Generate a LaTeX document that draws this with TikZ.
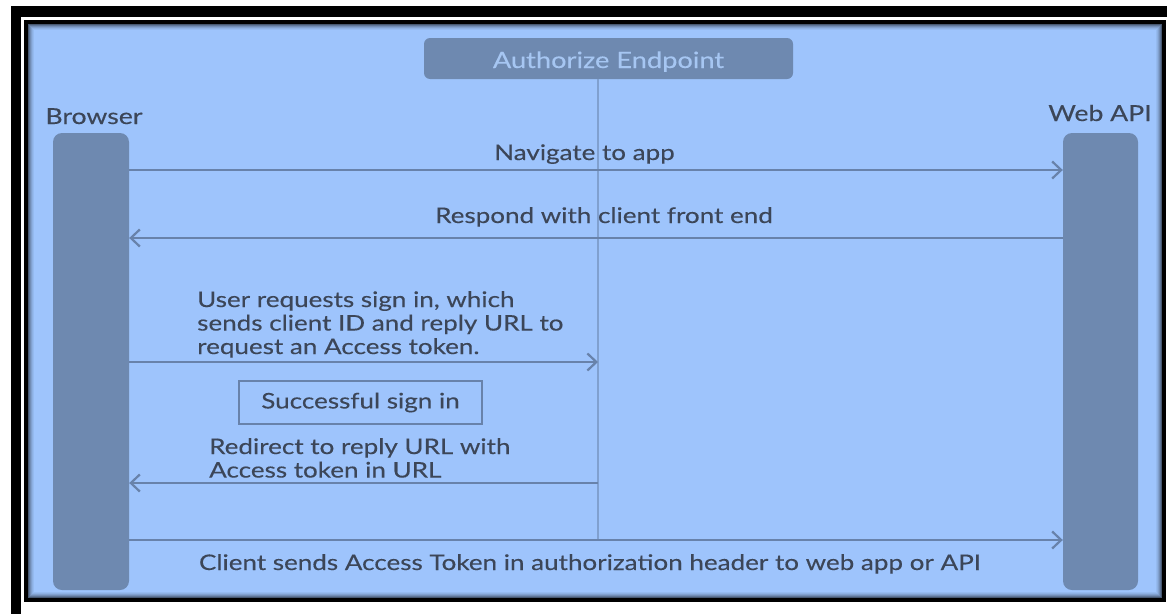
\documentclass[tikz,border=0pt]{standalone}
\usepackage{fontspec}
\setmainfont{Lato}[FakeStretch=1.21, FakeBold=0.25]
\usetikzlibrary{arrows.meta}

\definecolor{panel}{RGB}{158,196,252}
\definecolor{lane}{RGB}{110,137,176}
\definecolor{ink}{RGB}{60,70,88}
\definecolor{wire}{RGB}{104,130,170}
\definecolor{paletext}{RGB}{166,198,242}

\begin{document}
\begin{tikzpicture}[x=1pt,y=-1pt,
  lifeline/.style={fill=lane, rounded corners=9pt, minimum width=76pt,
    minimum height=457pt, inner sep=0pt},
  msg/.style={draw=wire, line width=2.2pt,
    -{Straight Barb[length=9pt,width=17pt,line width=2.2pt]}},
  lbl/.style={text=ink, font=\fontsize{21.5}{23.5}\selectfont, inner sep=0pt},
  head/.style={text=ink, font=\fontsize{22}{26}\selectfont, inner sep=0pt},
]
\useasboundingbox (0,0) rectangle (1167,613);
\clip (0,0) rectangle (1167,613);

% page and double black frame
\fill[white] (0,0) rectangle (1167,613);
\draw[black, line width=10.5pt] (16,11.5) rectangle (1180,620);
\draw[black, line width=3.5pt] (26,22) rectangle (1164,600);

% blue panel with a soft inner shadow
\fill[panel] (28,24) rectangle (1162,598);
\foreach \i/\o in {0.5/0.55,1.5/0.4,2.5/0.28,3.5/0.18,4.5/0.1,5.5/0.05}
  \draw[black, opacity=\o, line width=1pt]
    (28+\i,24+\i) rectangle (1162-\i,598-\i);

% participants
\node[lifeline] (browser) at (91,361.5) {};
\node[lifeline, minimum width=75pt] (webapi) at (1100.5,361.5) {};
\node[head, anchor=base] (browserlbl) at (94,124) {Browser};
\node[head, anchor=base] (webapilbl) at (1100,121) {Web API};

\node[fill=lane, rounded corners=6pt, minimum width=369pt, minimum height=41pt,
  inner sep=0pt] (endpoint) at (608.5,58.5) {};
\node[text=paletext, font=\fontsize{22.5}{26}\selectfont, inner sep=0pt,
  anchor=base] (endpointlbl) at (608.5,68) {Authorize Endpoint};

% endpoint lifeline
\coordinate (split) at (598,79);
\coordinate (splitend) at (598,540);
\draw[wire!55!panel, line width=1.2pt] (split) -- (splitend);

% messages
\draw[msg] (browser.east |- 0,170) -- (webapi.west |- 0,170);
\node[lbl, anchor=base] (m1) at (584.5,160) {Navigate to app};

\draw[msg] (webapi.west |- 0,238) -- (browser.east |- 0,238);
\node[lbl, anchor=base] (m2) at (604,223) {Respond with client front end};

\draw[msg] (browser.east |- 0,362) -- (split |- 0,362);
\node[lbl, anchor=north west, align=left] (m3) at (197,291)
  {User requests sign in, which\\sends client ID and reply URL to\\request an Access token.};

\node[lbl, draw=wire, line width=2.5pt, minimum width=243pt, minimum height=43pt]
  (signin) at (360.5,402.5) {Successful sign in};

\draw[msg] (split |- 0,483) -- (browser.east |- 0,483);
\node[lbl, anchor=north west, align=left] (m4) at (209,438)
  {Redirect to reply URL with\\Access token in URL};

\draw[msg] (browser.east |- 0,540) -- (webapi.west |- 0,540);
\node[lbl, anchor=base] (m5) at (590,570)
  {Client sends Access Token in authorization header to web app or API};
\end{tikzpicture}
\end{document}
